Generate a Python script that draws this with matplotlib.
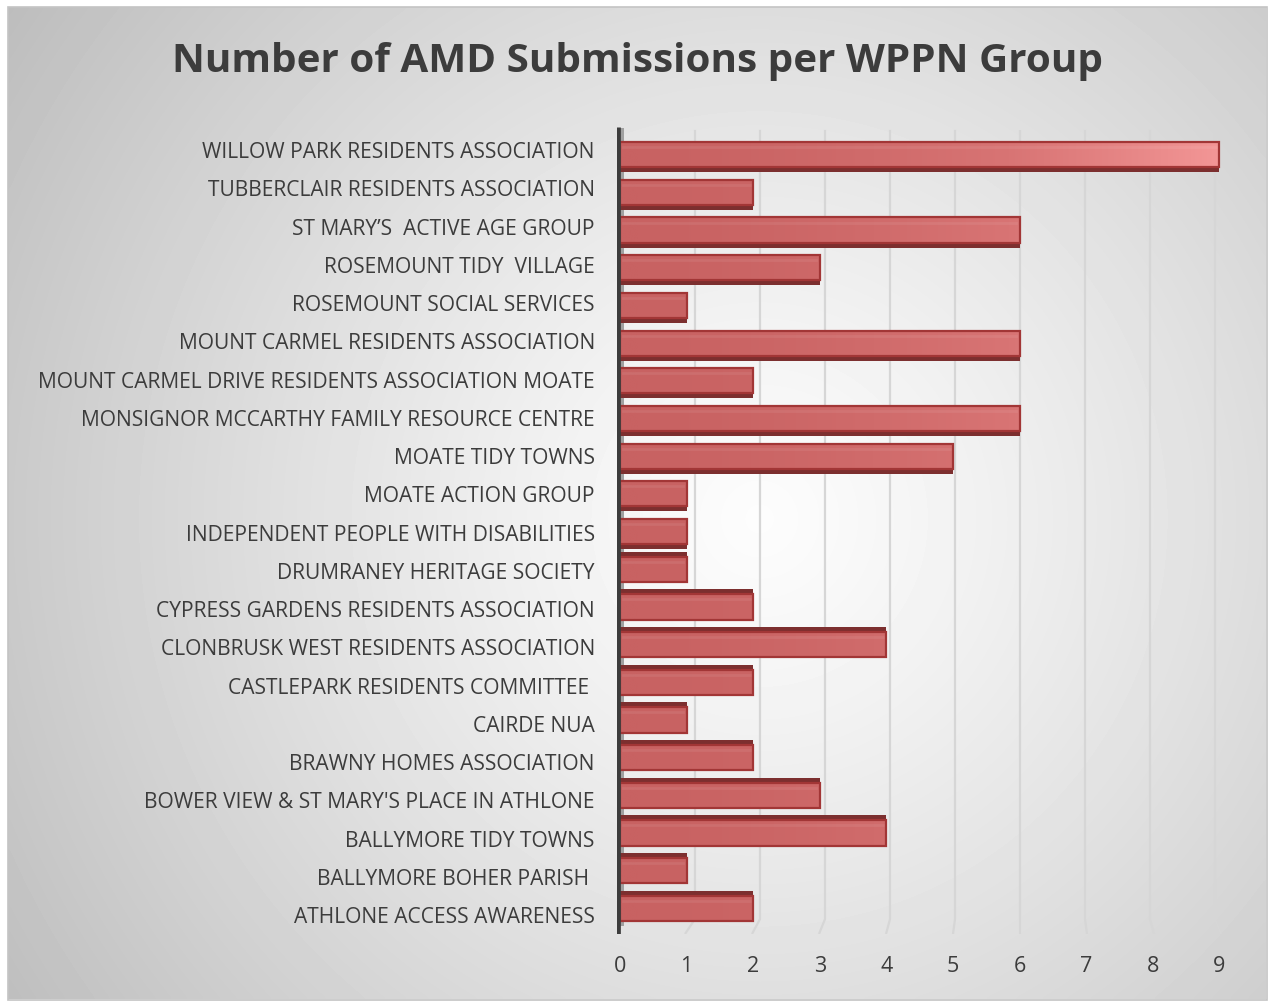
import numpy as np
import matplotlib
matplotlib.use("Agg")
import matplotlib.pyplot as plt
from matplotlib.patches import Rectangle
from matplotlib.colors import LinearSegmentedColormap

# data, bottom to top as drawn
groups = [
    "ATHLONE ACCESS AWARENESS",
    "BALLYMORE BOHER PARISH ",
    "BALLYMORE TIDY TOWNS",
    "BOWER VIEW & ST MARY'S PLACE IN ATHLONE",
    "BRAWNY HOMES ASSOCIATION",
    "CAIRDE NUA",
    "CASTLEPARK RESIDENTS COMMITTEE ",
    "CLONBRUSK WEST RESIDENTS ASSOCIATION",
    "CYPRESS GARDENS RESIDENTS ASSOCIATION",
    "DRUMRANEY HERITAGE SOCIETY",
    "INDEPENDENT PEOPLE WITH DISABILITIES",
    "MOATE ACTION GROUP",
    "MOATE TIDY TOWNS",
    "MONSIGNOR MCCARTHY FAMILY RESOURCE CENTRE",
    "MOUNT CARMEL DRIVE RESIDENTS ASSOCIATION MOATE",
    "MOUNT CARMEL RESIDENTS ASSOCIATION",
    "ROSEMOUNT SOCIAL SERVICES",
    "ROSEMOUNT TIDY  VILLAGE",
    "ST MARY\u2019S  ACTIVE AGE GROUP",
    "TUBBERCLAIR RESIDENTS ASSOCIATION",
    "WILLOW PARK RESIDENTS ASSOCIATION",
]
submissions = [2, 1, 4, 3, 2, 1, 2, 4, 2, 1, 1, 1, 5, 6, 2, 6, 1, 3, 6, 2, 9]
xticks = list(range(0, 10))

plt.rcParams['font.family'] = ['Open Sans', 'DejaVu Sans']
txt = '#3c3c3c'

fig = plt.figure(figsize=(12.72, 10.03), dpi=100)

# background: radial grey gradient inside a thin border
bg = fig.add_axes([0, 0, 1, 1], zorder=-5)
bg.set_xlim(0, 1272)
bg.set_ylim(1003, 0)
bg.axis('off')
xx, yy = np.meshgrid(np.linspace(8, 1266, 400), np.linspace(8, 1000, 320))
r = np.hypot(xx - 760, yy - 520) / 820.0
shade = np.clip(0.99 - 0.22 * r ** 1.2, 0, 1)
bg.imshow(shade, cmap='gray', vmin=0, vmax=1, extent=(8, 1266, 1000, 8),
          aspect='auto', interpolation='bicubic')
bg.add_patch(Rectangle((7.5, 7.5), 1259, 993, fill=False, ec='#c4c4c4', lw=1.2))

fig.text(0.501, 0.939, "Number of AMD Submissions per WPPN Group", ha='center',
         va='center', fontsize=29.1, fontweight='bold', color=txt)

# main axes: value 0 at px 620, 66.6 px per unit
ppu = 66.6
ax = fig.add_axes([617 / 1272, 68 / 1003, 623 / 1272, 807 / 1003])
ax.set_facecolor('none')
for s in ax.spines.values():
    s.set_visible(False)

# perspective-ish gridlines
for k in xticks[1:]:
    back = 0.15 + 0.976 * k
    front = -0.03 + 1.006 * k
    ax.plot([back, back, front], [20.5, -0.13, -0.52], color='#d6d6d6',
            lw=1.6, zorder=1, solid_capstyle='butt')

# side wall
ax.add_patch(Rectangle((-3 / ppu, -0.3), 0.1, 20.85, color='#a0a0a0', zorder=2, lw=0))
ax.plot([-2 / ppu, -2 / ppu], [-0.52, 20.575], color='#3c3c3c', lw=3.4, zorder=6,
        solid_capstyle='butt')

ypos = np.arange(len(groups))
mid = 10
# bars sit on a slightly compressed (perspective) row grid
bar_y = mid + (ypos - mid) * 0.985
h = 0.66
depth_off = np.where(ypos >= mid, -0.13, 0.13)
# dark depth face
ax.barh(bar_y + depth_off, submissions, height=h, left=0.0, color='#7c2f2f',
        zorder=3, lw=0)
# front faces with horizontal light gradient
bars = ax.barh(bar_y, submissions, height=h, color='none', edgecolor='#a23636',
               lw=1.6, zorder=5)
cmap = LinearSegmentedColormap.from_list('redlight', ['#c86262', '#d87474', '#f39696'])
grad = (np.linspace(0, 1, 256) ** 1.6)[None, :]
for b in bars:
    im = ax.imshow(grad, cmap=cmap, vmin=0, vmax=1, aspect='auto',
                   extent=(0, 9.0, b.get_y(), b.get_y() + b.get_height()),
                   zorder=4, interpolation='bilinear')
    im.set_clip_path(b)
    ax.plot([0.04, b.get_width() - 0.05], [b.get_y() + b.get_height() * 0.8] * 2,
            color='white', alpha=0.07, lw=2, zorder=4.5)

ax.set_xlim(-3 / ppu, 620 / ppu)
ax.set_ylim(-0.52, 20.575)
ax.set_yticks(ypos)
ax.set_yticklabels(groups, fontsize=15.1, color=txt)
ax.set_xticks(xticks)
ax.set_xticklabels([str(v) for v in xticks], fontsize=15.5, color=txt)
ax.tick_params(axis='y', length=0, pad=16)
ax.tick_params(axis='x', length=0, pad=15)

fig.savefig("out.png", dpi=100)
